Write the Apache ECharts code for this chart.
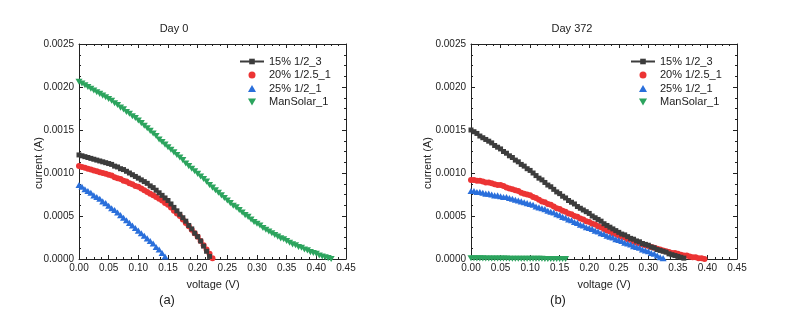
<!DOCTYPE html>
<html>
<head>
<meta charset="utf-8">
<script src="https://cdn.jsdelivr.net/npm/echarts@6/dist/echarts.min.js"></script>
<style>
html,body{margin:0;padding:0;background:#fff;}
#chart{width:785px;height:336px;}
</style>
</head>
<body>
<div id="chart"></div>
<script>
// ---- data ----
const voltage = [0,0.005,0.01,0.015,0.02,0.025,0.03,0.035,0.04,0.045,0.05,0.055,0.06,0.065,0.07,0.075,0.08,0.085,0.09,0.095,
0.1,0.105,0.11,0.115,0.12,0.125,0.13,0.135,0.14,0.145,0.15,0.155,0.16,0.165,0.17,0.175,0.18,0.185,0.19,0.195,
0.2,0.205,0.21,0.215,0.22,0.225,0.23,0.235,0.24,0.245,0.25,0.255,0.26,0.265,0.27,0.275,0.28,0.285,0.29,0.295,
0.3,0.305,0.31,0.315,0.32,0.325,0.33,0.335,0.34,0.345,0.35,0.355,0.36,0.365,0.37,0.375,0.38,0.385,0.39,0.395,
0.4,0.405,0.41,0.415,0.42,0.425];

const seriesNames = ['15% 1/2_3', '20% 1/2.5_1', '25% 1/2_1', 'ManSolar_1'];
const xTicks = [0,0.05,0.1,0.15,0.2,0.25,0.3,0.35,0.4,0.45];
const yTicks = [0,0.0005,0.001,0.0015,0.002,0.0025];
const panelTitles = ['Day 0', 'Day 372'];
const panelLetters = ['(a)', '(b)'];

// Day 0 currents (A), aligned with voltage
const day0_15 = [0.00121,0.00120,0.00119,0.00118,0.00117,0.00116,0.00115,0.00114,0.00113,0.00112,
0.00111,0.00110,0.00108,0.00107,0.00105,0.00104,0.00102,0.00100,0.00098,0.00096,
0.00094,0.00092,0.00090,0.00088,0.00085,0.00083,0.00080,0.00077,0.00074,0.00071,
0.00068,0.00064,0.00060,0.00056,0.00052,0.00048,0.00044,0.00039,0.00035,0.00030,
0.00026,0.00021,0.00015,0.00009,0.00003];
const day0_20 = [0.00108,0.00107,0.00106,0.00105,0.00104,0.00103,0.00102,0.00101,0.00100,0.00099,
0.00098,0.00097,0.00095,0.00094,0.00093,0.00091,0.00090,0.00088,0.00087,0.00085,
0.00084,0.00082,0.00080,0.00078,0.00076,0.00074,0.00072,0.00070,0.00068,0.00065,
0.00063,0.00060,0.00056,0.00053,0.00050,0.00046,0.00042,0.00038,0.00034,0.00030,
0.00026,0.00021,0.00016,0.00011,0.00006,0.00001];
const day0_25 = [0.00086,0.00084,0.00081,0.00079,0.00077,0.00074,0.00072,0.00070,0.00067,0.00065,
0.00062,0.00059,0.00057,0.00054,0.00051,0.00048,0.00045,0.00042,0.00039,0.00036,
0.00033,0.00030,0.00027,0.00024,0.00021,0.00018,0.00014,0.00011,0.00007,0.00003];
const day0_man = [0.00206,0.00204,0.00202,0.00200,0.00198,0.00196,0.00194,0.00192,0.00190,0.00188,
0.00186,0.00184,0.00181,0.00179,0.00176,0.00174,0.00171,0.00169,0.00166,0.00164,
0.00161,0.00158,0.00155,0.00152,0.00149,0.00146,0.00143,0.00139,0.00136,0.00133,
0.00130,0.00127,0.00124,0.00121,0.00118,0.00115,0.00111,0.00108,0.00105,0.00102,
0.00099,0.00096,0.00093,0.00090,0.00086,0.00083,0.00080,0.00077,0.00074,0.00071,
0.00068,0.00065,0.00062,0.00060,0.00057,0.00054,0.00051,0.00049,0.00046,0.00043,
0.00041,0.00039,0.00036,0.00034,0.00032,0.00030,0.00028,0.00026,0.00024,0.00023,
0.00021,0.00019,0.00017,0.00016,0.00014,0.00013,0.00011,0.00010,0.00008,0.00007,
0.00006,0.00004,0.00003,0.00002,0.00001,0.00000];

// Day 372 currents (A), aligned with voltage
const day372_15 = [0.00150,0.00148,0.00146,0.00143,0.00141,0.00139,0.00137,0.00135,0.00132,0.00130,
0.00128,0.00125,0.00123,0.00120,0.00118,0.00115,0.00113,0.00110,0.00108,0.00105,
0.00103,0.00100,0.00097,0.00094,0.00092,0.00089,0.00086,0.00084,0.00081,0.00078,
0.00076,0.00073,0.00071,0.00068,0.00066,0.00064,0.00061,0.00059,0.00057,0.00055,
0.00053,0.00050,0.00048,0.00046,0.00044,0.00041,0.00039,0.00037,0.00035,0.00033,
0.00031,0.00029,0.00028,0.00026,0.00024,0.00023,0.00021,0.00020,0.00018,0.00017,
0.00016,0.00014,0.00013,0.00011,0.00010,0.00009,0.00008,0.00006,0.00005,0.00004,
0.00003,0.00002,0.00001];
const day372_20 = [0.00092,0.00092,0.00091,0.00091,0.00090,0.00089,0.00089,0.00088,0.00087,0.00086,
0.00086,0.00085,0.00083,0.00082,0.00081,0.00080,0.00079,0.00077,0.00076,0.00075,
0.00074,0.00072,0.00071,0.00069,0.00067,0.00066,0.00064,0.00063,0.00061,0.00059,
0.00058,0.00056,0.00055,0.00053,0.00052,0.00050,0.00049,0.00047,0.00046,0.00044,
0.00043,0.00041,0.00040,0.00038,0.00037,0.00035,0.00033,0.00032,0.00030,0.00029,
0.00027,0.00026,0.00025,0.00023,0.00022,0.00020,0.00019,0.00018,0.00017,0.00016,
0.00015,0.00014,0.00013,0.00012,0.00011,0.00010,0.00009,0.00008,0.00007,0.00007,
0.00006,0.00005,0.00004,0.00004,0.00003,0.00002,0.00002,0.00001,0.00001,0.00000];
const day372_25 = [0.00079,0.00079,0.00078,0.00078,0.00077,0.00076,0.00076,0.00075,0.00074,0.00074,
0.00073,0.00072,0.00072,0.00071,0.00070,0.00069,0.00068,0.00067,0.00066,0.00065,
0.00064,0.00063,0.00061,0.00060,0.00059,0.00058,0.00056,0.00055,0.00054,0.00052,
0.00051,0.00049,0.00048,0.00046,0.00045,0.00043,0.00042,0.00040,0.00039,0.00037,
0.00036,0.00035,0.00033,0.00032,0.00030,0.00029,0.00027,0.00026,0.00025,0.00023,
0.00022,0.00021,0.00019,0.00018,0.00017,0.00015,0.00014,0.00013,0.00011,0.00010,
0.00009,0.00007,0.00006,0.00004,0.00002,0.00001];
const day372_man = [0.000008,0.000008,0.000007,0.000007,0.000007,0.000006,0.000006,0.000006,0.000006,0.000005,
0.000005,0.000005,0.000005,0.000004,0.000004,0.000004,0.000004,0.000003,0.000003,0.000003,
0.000003,0.000002,0.000002,0.000002,0.000002,0.000001,0.000001,0.000001,0.000001,0.000000,
0.000000,0.000000,0.000000];

// ---- styling ----
const FONT = '"Liberation Sans", Arial, sans-serif';
const colors = ['#3c3c3c', '#ec3434', '#2a6fdb', '#2ca45e'];
const symbols = ['rect', 'circle', 'path://M5,0 L10,8.66 L0,8.66 Z', 'path://M0,0 L10,0 L5,8.66 Z'];
const symbolSizes = [5, 6, 7, 7];

function pairs(cur) { return cur.map((c, i) => [voltage[i], c]); }

const panels = [
  { grid: { left: 79, top: 44, width: 267, height: 215 }, data: [day0_15, day0_20, day0_25, day0_man],
    titleX: 174, nameX: 213, yNameX: 39, letterX: 167, legendLeft: 239 },
  { grid: { left: 471, top: 44, width: 266, height: 215 }, data: [day372_15, day372_20, day372_25, day372_man],
    titleX: 572, nameX: 604, yNameX: 428, letterX: 558, legendLeft: 630 }
];

const axisLineStyle = { color: '#222', width: 1 };
function xAx(gi, pos, labels) {
  return {
    type: 'value', gridIndex: gi, position: pos, min: xTicks[0], max: xTicks[xTicks.length - 1],
    interval: xTicks[1] - xTicks[0],
    axisLine: { show: true, onZero: false, lineStyle: axisLineStyle },
    axisTick: { show: true, inside: true, length: 4, lineStyle: axisLineStyle },
    minorTick: { show: true, splitNumber: 4, length: 2, lineStyle: { color: '#222', width: 1 } },
    axisLabel: { show: labels, margin: 4, fontSize: 10, fontFamily: FONT, color: '#222',
      formatter: v => v.toFixed(2) },
    splitLine: { show: false }
  };
}
function yAx(gi, pos, labels) {
  return {
    type: 'value', gridIndex: gi, position: pos, min: yTicks[0], max: yTicks[yTicks.length - 1],
    interval: yTicks[1] - yTicks[0],
    axisLine: { show: true, onZero: false, lineStyle: axisLineStyle },
    axisTick: { show: true, inside: true, length: 4, lineStyle: axisLineStyle },
    minorTick: { show: true, splitNumber: 4, length: 2, lineStyle: { color: '#222', width: 1 } },
    axisLabel: { show: labels, margin: 5, fontSize: 10, fontFamily: FONT, color: '#222',
      formatter: v => v.toFixed(4) },
    splitLine: { show: false }
  };
}

const grids = [], xAxes = [], yAxes = [], series = [], legends = [], graphics = [];
panels.forEach((p, gi) => {
  grids.push(Object.assign({ containLabel: false }, p.grid));
  xAxes.push(xAx(gi, 'bottom', true)); xAxes.push(xAx(gi, 'top', false));
  yAxes.push(yAx(gi, 'left', true)); yAxes.push(yAx(gi, 'right', false));
  p.data.forEach((cur, si) => {
    const s = {
      name: seriesNames[si], type: si === 0 ? 'line' : 'scatter',
      xAxisIndex: gi * 2, yAxisIndex: gi * 2,
      data: pairs(cur), symbol: symbols[si], symbolSize: symbolSizes[si], symbolKeepAspect: true,
      itemStyle: { color: colors[si], opacity: 1 }, clip: true, silent: true, animation: false
    };
    if (si === 0) {
      s.showSymbol = true; s.showAllSymbol = true;
      s.lineStyle = { color: colors[0], width: 1 };
    }
    series.push(s);
  });
  legends.push({
    data: seriesNames, orient: 'vertical', left: p.legendLeft, top: 56, itemWidth: 24, itemHeight: 7,
    itemGap: 2.5, selectedMode: false, padding: 0,
    textStyle: { fontSize: 11, fontFamily: FONT, color: '#222', lineHeight: 11 }
  });
  const txt = (t, x, y, size, rot) => ({
    type: 'text', x: x, y: y, rotation: rot || 0, silent: true,
    style: { text: t, font: size + 'px ' + FONT, fill: '#222', align: 'center', verticalAlign: 'middle',
      textAlign: 'center', textVerticalAlign: 'middle' }
  });
  graphics.push(txt(panelTitles[gi], p.titleX, 29, 11));
  graphics.push(txt('voltage (V)', p.nameX, 285, 11));
  graphics.push(txt('current (A)', p.yNameX, 163, 11, Math.PI / 2));
  graphics.push(txt(panelLetters[gi], p.letterX, 300, 13));
});

const chart = echarts.init(document.getElementById('chart'), null, { renderer: 'canvas' });
chart.setOption({
  animation: false,
  backgroundColor: '#fff',
  grid: grids, xAxis: xAxes, yAxis: yAxes, series: series, legend: legends,
  graphic: { elements: graphics }
});
</script>
</body>
</html>
